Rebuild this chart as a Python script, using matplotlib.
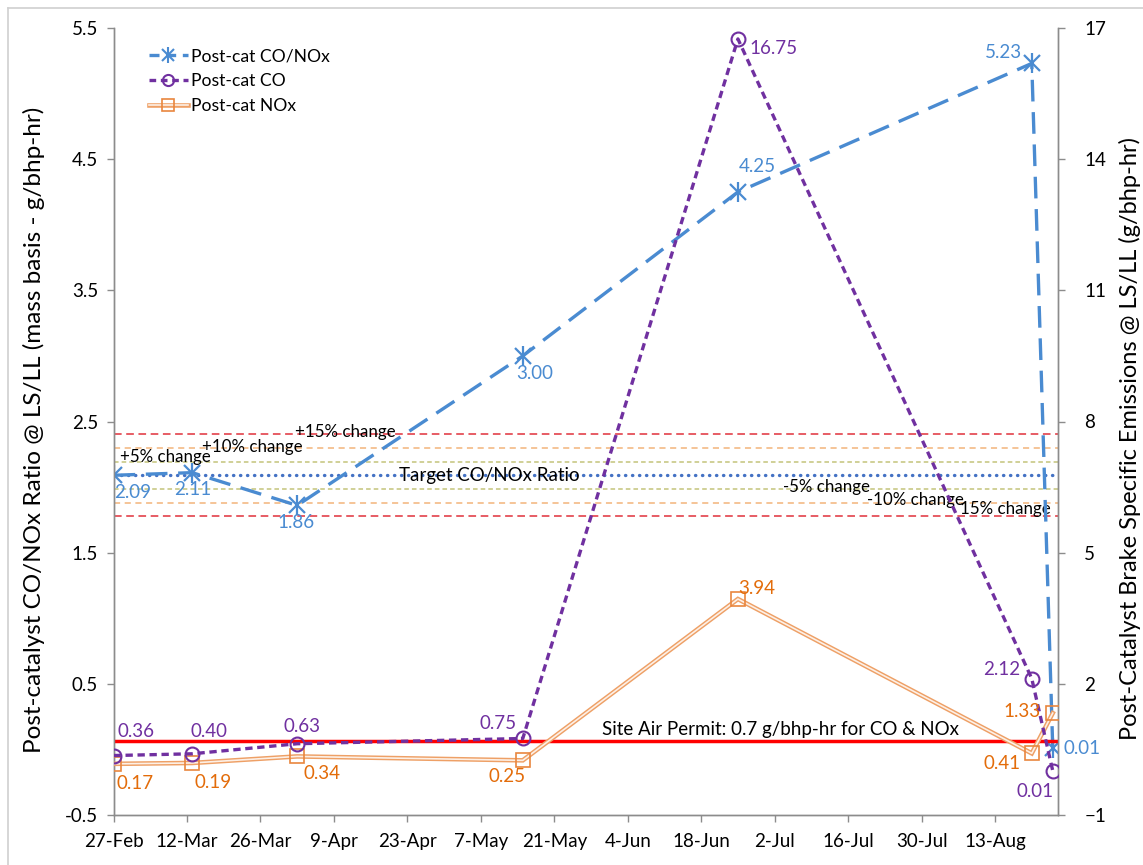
import datetime as dt

import matplotlib
matplotlib.use("Agg")
import matplotlib.pyplot as plt
import matplotlib.dates as mdates
from matplotlib.lines import Line2D
from matplotlib.legend_handler import HandlerTuple
from matplotlib.ticker import FixedLocator, FuncFormatter

plt.rcParams['font.family'] = ['Lato', 'DejaVu Sans']

# ---- data -------------------------------------------------------------
sample_dates = ["2012-02-27", "2012-03-13", "2012-04-02", "2012-05-15",
                "2012-06-25", "2012-08-20", "2012-08-24"]
co_nox_ratio = [2.09, 2.11, 1.86, 3.00, 4.25, 5.23, 0.01]
co_emissions = [0.36, 0.40, 0.63, 0.75, 16.75, 2.12, 0.01]
nox_emissions = [0.17, 0.19, 0.34, 0.25, 3.94, 0.41, 1.33]

target_ratio = 2.09
band_percents = [5, 10, 15]
permit_limit = 0.7

axis_start = "2012-02-27"
axis_end = "2012-08-25"
tick_step_days = 14

series_names = ["Post-cat CO/NOx", "Post-cat CO", "Post-cat NOx"]
left_label = "Post-catalyst CO/NOx Ratio @ LS/LL (mass basis - g/bhp-hr)"
right_label = "Post-Catalyst Brake Specific Emissions @ LS/LL (g/bhp-hr)"

# ---- styling ----------------------------------------------------------
ratio_color = '#4a8bd1'
co_color = '#7030a0'
nox_color = '#e9863e'
nox_line = '#eea066'
nox_text = '#e36c0a'
spine_color = '#8c8c8c'
fs = 13.5


def to_date(s):
    return dt.datetime.strptime(s, "%Y-%m-%d")


dates = [to_date(s) for s in sample_dates]
x0, x1 = to_date(axis_start), to_date(axis_end)

W, H = 1143, 865
fig = plt.figure(figsize=(W / 100, H / 100), dpi=100)
ax = fig.add_axes([113.5 / W, 50 / H, 944.5 / W, 787 / H])
ax2 = ax.twinx()

# chart-area border
fig.add_artist(Line2D([8 / W, 8 / W], [0, 1 - 8 / H], color='#d0d0d0', lw=1.2,
                      transform=fig.transFigure))
fig.add_artist(Line2D([8 / W, 1], [1 - 8 / H, 1 - 8 / H], color='#d0d0d0', lw=1.2,
                      transform=fig.transFigure))

# ---- axes setup -------------------------------------------------------
ax.set_xlim(x0, x1)
ax.set_ylim(-0.5, 5.5)
ax2.set_ylim(-1, 17)
ax.set_yticks([-0.5 + i for i in range(7)])
ax.yaxis.set_major_formatter(FuncFormatter(lambda v, p: f"{v:.1f}"))
ax2.set_yticks([-1 + 3 * i for i in range(7)])

ticks = []
t = x0
while t <= x1:
    ticks.append(mdates.date2num(t))
    t += dt.timedelta(days=tick_step_days)
ax.xaxis.set_major_locator(FixedLocator(ticks))
ax.xaxis.set_major_formatter(FuncFormatter(
    lambda v, p: f"{mdates.num2date(v).day}-{mdates.num2date(v).strftime('%b')}"))

for a in (ax, ax2):
    a.spines['top'].set_visible(False)
    for s in ('left', 'right', 'bottom'):
        a.spines[s].set_color(spine_color)
        a.spines[s].set_linewidth(1.0)
    a.tick_params(axis='both', which='major', direction='out', length=5,
                  width=1.0, color=spine_color, labelsize=fs, labelcolor='black')
ax.tick_params(axis='x', pad=8)
ax.tick_params(axis='y', pad=6)
ax2.tick_params(axis='y', pad=14)

ax.set_ylabel(left_label, fontsize=17.5)
ax.yaxis.set_label_coords(-0.072, 0.489)
ax2.set_ylabel(right_label, fontsize=17, rotation=90)
ax2.yaxis.set_label_coords(1.065, 0.478)

# ---- target ratio and change bands -----------------------------------
band_styles = {5: ('#c4c47a', (0, (3, 2))),
               10: ('#f2b47a', (0, (4, 3))),
               15: ('#e0303a', (0, (5, 3)))}
for p in band_percents:
    c, ls = band_styles[p]
    for sgn in (1, -1):
        ax.axhline(target_ratio * (1 + sgn * p / 100), color=c, lw=1.1, ls=ls, zorder=1)
ax.axhline(target_ratio, color='#4472c4', lw=2.4, ls=(0, (0.1, 2.0)),
           dash_capstyle='round', zorder=2)

ax.text(0.3976, target_ratio, "Target CO/NOx Ratio", transform=ax.get_yaxis_transform(),
        ha='center', va='center', fontsize=fs, zorder=3)

band_text = [("+5% change", 0.0069, 5, 5), ("+10% change", 0.0937, 10, 1),
             ("+15% change", 0.192, 15, 2), ("-5% change", 0.709, -5, 2),
             ("-10% change", 0.798, -10, 3), ("15% change", 0.896, -15, 7)]
for txt, xf, p, dy in band_text:
    ax.annotate(txt, (xf, target_ratio * (1 + p / 100)), xycoords=ax.get_yaxis_transform(),
                xytext=(0, dy), textcoords='offset pixels', ha='left', va='center',
                fontsize=12.2, zorder=3)

# ---- emission series (secondary axis) --------------------------------
ax2.axhline(permit_limit, color='#ff0000', lw=2.5, zorder=2)
ax2.annotate("Site Air Permit: 0.7 g/bhp-hr for CO & NOx", (0.7067, permit_limit),
             xycoords=ax2.get_yaxis_transform(), xytext=(0, 11), textcoords='offset pixels',
             ha='center', va='center', fontsize=fs)

ax2.plot(dates, nox_emissions, color=nox_line, lw=3.3, zorder=3, solid_joinstyle='miter')
ax2.plot(dates, nox_emissions, color='#fdf0e6', lw=1.2, zorder=3.1)
ax2.plot(dates, nox_emissions, ls='none', marker='s', ms=10, mfc='none',
         mec=nox_color, mew=1.2, zorder=3.2)

ax2.plot(dates, co_emissions, color=co_color, lw=2.4, ls=(0, (2.2, 1.4)), zorder=4,
         marker='o', ms=10, mfc='none', mec=co_color, mew=1.5)

ax.plot(dates, co_nox_ratio, color=ratio_color, lw=2.4, ls=(0, (6.5, 3.2)), zorder=4)
ax.plot(dates, co_nox_ratio, ls='none', marker='x', ms=11, mec=ratio_color, mew=1.6, zorder=5)
ax.plot(dates, co_nox_ratio, ls='none', marker='|', ms=15, mec=ratio_color, mew=1.6, zorder=5)

# ---- data labels ------------------------------------------------------
ratio_off = [(19, -17), (1, -17), (-1, -17), (12, -18), (19, 25), (-28, 11), (29, 0)]
co_off = [(22, 24), (17, 22), (5, 17), (-25, 15), (36, -10), (-30, 9), (-18, -21)]
nox_off = [(22, -20), (21, -20), (25, -17), (-16, -16), (19, 11), (-30, -10), (-31, 2)]

for d, v, o in zip(dates, co_nox_ratio, ratio_off):
    ax.annotate(f"{v:.2f}", (d, v), xytext=o, textcoords='offset pixels',
                ha='center', va='center', fontsize=fs, color=ratio_color, zorder=6)
for d, v, o in zip(dates, co_emissions, co_off):
    ax2.annotate(f"{v:.2f}", (d, v), xytext=o, textcoords='offset pixels',
                 ha='center', va='center', fontsize=fs, color=co_color, zorder=6)
for d, v, o in zip(dates, nox_emissions, nox_off):
    ax2.annotate(f"{v:.2f}", (d, v), xytext=o, textcoords='offset pixels',
                 ha='center', va='center', fontsize=fs, color=nox_text, zorder=6)

# ---- legend -----------------------------------------------------------
h_ratio = (Line2D([], [], color=ratio_color, lw=2.4, ls=(0, (3, 2))),
           Line2D([], [], ls='none', marker='x', ms=9, mec=ratio_color, mew=1.5),
           Line2D([], [], ls='none', marker='|', ms=12, mec=ratio_color, mew=1.5))
h_co = (Line2D([], [], color=co_color, lw=2.4, ls=(0, (2, 1.4))),
        Line2D([], [], ls='none', marker='o', ms=8, mfc='none', mec=co_color, mew=1.5))
h_nox = (Line2D([], [], color=nox_line, lw=3.3),
         Line2D([], [], color='#fdf0e6', lw=1.2),
         Line2D([], [], ls='none', marker='s', ms=8, mfc='none', mec=nox_color, mew=1.2))
leg = ax2.legend([h_ratio, h_co, h_nox], series_names, loc='upper left',
                 bbox_to_anchor=(0.021, 0.994), frameon=False, fontsize=12.6,
                 handlelength=2.2, handletextpad=0.2, labelspacing=0.5,
                 handler_map={tuple: HandlerTuple(ndivide=1)})

fig.savefig("out.png", dpi=100)
